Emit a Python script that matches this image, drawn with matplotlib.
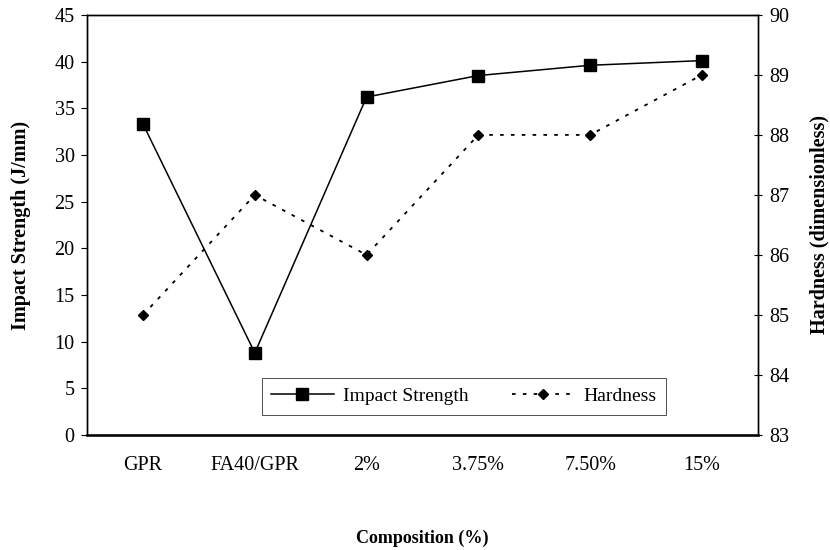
import matplotlib
matplotlib.use("Agg")
import matplotlib.pyplot as plt

plt.rcParams['font.family'] = ['Liberation Serif', 'DejaVu Serif']

# data
compositions = ["GPR", "FA40/GPR", "2%", "3.75%", "7.50%", "15%"]
impact_strength = [33.3, 8.8, 36.2, 38.5, 39.6, 40.1]
hardness = [85, 87, 86, 88, 88, 89]

fig = plt.figure(figsize=(8.3, 5.5), dpi=100)
ax = fig.add_axes([0.105, 0.209, 0.808, 0.764])
ax2 = ax.twinx()

x = list(range(len(compositions)))
l1, = ax.plot(x, impact_strength, color='black', linestyle='-', linewidth=1.1,
              marker='s', markersize=8, label="Impact Strength")
l2, = ax2.plot(x, hardness, color='black', linestyle=(0, (2, 4)), linewidth=1.3,
               marker='D', markersize=5.5, label="Hardness")

ax.set_xlim(-0.5, len(compositions) - 0.5)
ax.set_ylim(0, 45)
ax.set_yticks(range(0, 46, 5))
ax2.set_ylim(83, 90)
ax2.set_yticks(range(83, 91))

ax.set_xticks(x)
ax.set_xticklabels(compositions)
ax.tick_params(axis='x', length=0, pad=15, labelsize=14.5)
ax.tick_params(axis='y', direction='out', length=4, labelsize=14.5, width=0.8, pad=5)
ax2.tick_params(axis='y', direction='inout', length=6, labelsize=14.5, width=0.8, pad=5)

for a in (ax, ax2):
    for s in a.spines.values():
        s.set_linewidth(1.0)
ax.spines['bottom'].set_linewidth(1.8)

ax.set_xlabel("Composition (%)", fontweight='bold', fontsize=13)
ax.xaxis.set_label_coords(0.5, -0.225)
ax.set_ylabel("Impact Strength (J/mm)", fontweight='bold', fontsize=14.5, labelpad=17)
ax2.set_ylabel("Hardness (dimensionless)", fontweight='bold', fontsize=14.5, labelpad=15)

leg = ax.legend(handles=[l1, l2], loc='lower center', bbox_to_anchor=(0.562, 0.025),
                ncol=2, frameon=True, fancybox=False, edgecolor='black',
                fontsize=14, handlelength=3.2, handletextpad=0.5, columnspacing=2.2,
                borderpad=0.5)
leg.get_frame().set_linewidth(0.6)

fig.savefig("out.png", dpi=100)
